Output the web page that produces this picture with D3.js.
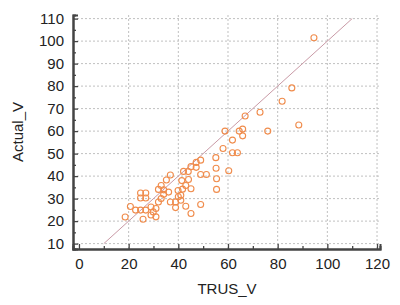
<!DOCTYPE html>
<html><head><meta charset="utf-8">
<script src="https://cdn.jsdelivr.net/npm/d3@7"></script>
<style>body{margin:0;background:#fff}svg{display:block}text{font-family:"Liberation Sans",Arial,sans-serif}</style>
</head><body><svg id="c" width="400" height="305"></svg>
<script>
const trusV = [18.6,20.7,22.8,24.8,25.8,24.8,26.9,24.8,26.9,26.9,29.0,29.0,31.0,31.0,29.9,32.0,33.1,33.1,32.0,34.1,35.2,36.8,36.1,36.8,34.1,38.9,38.9,39.9,41.0,41.4,41.7,42.1,41.0,40.0,43.0,44.0,44.1,43.0,45.1,45.1,45.1,47.2,49.0,47.2,49.0,51.3,49.0,55.2,55.1,55.4,55.4,60.3,58.8,58.0,61.8,63.8,61.8,64.5,65.9,65.9,66.9,72.9,76.0,81.8,85.7,88.5,94.6];
const actualV = [21.8,26.5,24.9,24.9,20.8,32.5,32.5,30.3,30.3,24.9,26.3,22.7,25.6,21.9,24.1,28.5,30.0,35.8,34.1,33.9,38.3,40.5,32.9,28.5,31.9,28.5,26.0,33.6,29.3,38.0,34.2,42.1,31.5,30.8,26.6,42.0,38.5,35.8,34.4,23.4,44.2,46.1,47.1,43.9,40.7,40.7,27.4,43.5,48.2,38.8,34.1,42.4,60.0,52.3,50.4,50.4,56.0,60.0,60.9,57.9,66.7,68.4,60.0,73.3,79.2,62.7,101.5];
const xTicks = [0,20,40,60,80,100,120];
const yTicks = [10,20,30,40,50,60,70,80,90,100,110];
const identity = [10,110];

const svg = d3.select("#c");
const x = d3.scaleLinear().domain([-2.4,121.2]).range([73,380]);
const y = d3.scaleLinear().domain([7.6,111.6]).range([249,15]);

const g = svg.append("g");
g.selectAll(".vg").data(xTicks.filter(d=>d>0)).join("line")
  .attr("x1",d=>x(d)).attr("x2",d=>x(d)).attr("y1",y(111.6)).attr("y2",y(7.6))
  .attr("stroke","#c0c0c0").attr("stroke-dasharray","2,2").attr("stroke-width",1);
g.selectAll(".hg").data(yTicks).join("line")
  .attr("x1",x(-2.4)).attr("x2",x(121.2)).attr("y1",d=>y(d)).attr("y2",d=>y(d))
  .attr("stroke","#c0c0c0").attr("stroke-dasharray","2,2").attr("stroke-width",1);

svg.append("line")
  .attr("x1",x(identity[0])).attr("y1",y(identity[0]))
  .attr("x2",x(identity[1])).attr("y2",y(identity[1]))
  .attr("stroke","#c99aa6").attr("stroke-width",1);

svg.append("g").selectAll("circle").data(trusV.map((d,i)=>[d,actualV[i]])).join("circle")
  .attr("cx",d=>x(d[0])).attr("cy",d=>y(d[1])).attr("r",3)
  .attr("fill","none").attr("stroke","#f08c4c").attr("stroke-width",1.1);

const xa = d3.axisBottom(x).tickValues(xTicks).tickSize(-5).tickPadding(9);
const xam = d3.axisBottom(x).tickValues(d3.range(10,121,20)).tickSize(-3).tickFormat("");
const ya = d3.axisLeft(y).tickValues(yTicks).tickSize(-5).tickPadding(9);
const yam = d3.axisLeft(y).tickValues(d3.range(15,111,10)).tickSize(-3).tickFormat("");
function style(sel){
  sel.select(".domain").attr("stroke","#444").attr("stroke-width",2);
  sel.selectAll(".tick line").attr("stroke","#444").attr("stroke-width",1.3);
  sel.selectAll("text").attr("font-size",15).attr("fill","#222");
}
svg.append("g").attr("transform","translate(0,249)").call(xam).call(style);
svg.append("g").attr("transform","translate(0,249)").call(xa).call(style);
svg.append("g").attr("transform","translate(73,0)").call(yam).call(style);
svg.append("g").attr("transform","translate(73,0)").call(ya).call(style);

svg.append("text").attr("x",227).attr("y",294).attr("text-anchor","middle")
  .attr("font-size",15).attr("fill","#222").text("TRUS_V");
svg.append("text").attr("transform","translate(23,132) rotate(-90)").attr("text-anchor","middle")
  .attr("font-size",15).attr("fill","#222").text("Actual_V");
</script></body></html>
